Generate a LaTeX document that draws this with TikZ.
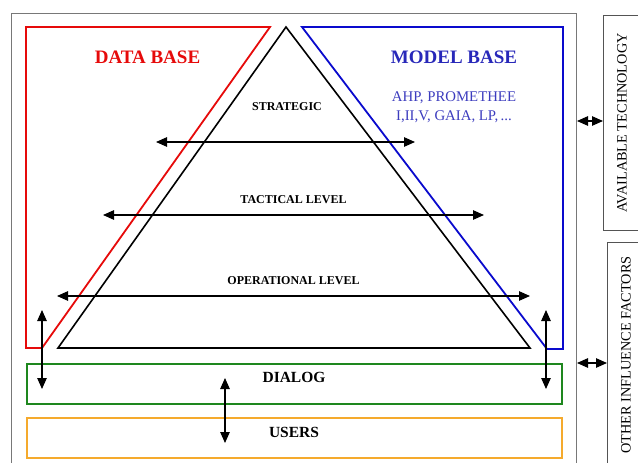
\documentclass[tikz,border=0pt]{standalone}
\usepackage{fontspec}
\setmainfont{Liberation Serif}
\usetikzlibrary{arrows.meta}
\definecolor{dbred}{RGB}{230,10,10}
\definecolor{mbblue}{RGB}{10,10,205}
\definecolor{mbtext}{RGB}{40,40,185}
\definecolor{mbsub}{RGB}{60,60,190}
\definecolor{dlggreen}{RGB}{30,135,30}
\definecolor{usrorange}{RGB}{245,170,45}
\definecolor{framegray}{RGB}{120,120,120}
\tikzset{
  dbl/.style={line width=1.2pt,{Triangle[length=11pt,width=9.5pt]}-{Triangle[length=11pt,width=9.5pt]}},
  lvl/.style={font=\bfseries\fontsize{12}{13}\selectfont,inner sep=0pt},
  side/.style={font=\fontsize{14.3}{15}\selectfont,rotate=90,inner sep=0pt},
  bar/.style={font=\bfseries\fontsize{15.5}{16}\selectfont,inner sep=0pt}
}
\begin{document}
\begin{tikzpicture}[x=1pt,y=-1pt]
\useasboundingbox (0,0) rectangle (638,463);
% outer frame
\draw[framegray,line width=0.9pt] (11,470) -- (11,13) -- (576,13) -- (576,470);
% side boxes
\draw[framegray!70!black,line width=0.9pt] (645,15) -- (603,15) -- (603,230) -- (645,230);
\draw[framegray!70!black,line width=0.9pt] (645,242) -- (607,242) -- (607,470);
% data base
\draw[dbred,line width=1.8pt] (26,27) -- (270,27) -- (42,348) -- (26,348) -- cycle;
% model base
\draw[mbblue,line width=1.8pt] (302,27) -- (563,27) -- (563,349) -- (547,349) -- cycle;
% pyramid
\draw[black,line width=1.6pt,line join=miter] (286,27) -- (530,348) -- (58,348) -- cycle;
% dialog and users
\node[draw=dlggreen,line width=1.6pt,minimum width=535pt,minimum height=40pt,anchor=north west,inner sep=0pt] (dialogbox) at (26,363) {};
\node[draw=usrorange,line width=1.6pt,minimum width=535pt,minimum height=40pt,anchor=north west,inner sep=0pt] (usersbox) at (26,417) {};
\node[bar] (dialog) at (294,377) {DIALOG};
\node[bar] (users) at (294,432) {USERS};
% titles
\node[dbred,font=\bfseries\fontsize{19}{20}\selectfont,inner sep=0pt] (dbt) at (147.5,57) {DATA BASE};
\node[mbtext,font=\bfseries\fontsize{19}{20}\selectfont,inner sep=0pt] (mbt) at (454,57) {MODEL BASE};
\node[mbsub,font=\fontsize{14.8}{19}\selectfont,align=center,inner sep=0pt] (mbm) at (454,107.5) {AHP, PROMETHEE\\I,II,V, GAIA, LP,\,...};
% levels
\node[lvl] (strat) at (287,107) {STRATEGIC};
\node[lvl] (tact) at (293.5,200) {TACTICAL LEVEL};
\node[lvl] (oper) at (293.5,281) {OPERATIONAL LEVEL};
\coordinate (s1) at (156,142); \coordinate (s2) at (415,142);
\coordinate (t1) at (103,215); \coordinate (t2) at (484,215);
\coordinate (o1) at (57,296);  \coordinate (o2) at (530,296);
\draw[dbl] (s1) -- (s2);
\draw[dbl] (t1) -- (t2);
\draw[dbl] (o1) -- (o2);
% vertical arrows
\coordinate (l1) at (42,310); \coordinate (l2) at (42,389);
\coordinate (r1) at (546,310); \coordinate (r2) at (546,389);
\coordinate (m1) at (225,378); \coordinate (m2) at (225,443);
\draw[dbl] (l1) -- (l2);
\draw[dbl] (r1) -- (r2);
\draw[dbl] (m1) -- (m2);
% side texts
\node[side] (avail) at (622,123) {AVAILABLE TECHNOLOGY};
\node[side] (other) at (626,355) {OTHER INFLUENCE FACTORS};
\coordinate (a1) at (577,121); \coordinate (a2) at (603,121);
\coordinate (b1) at (577,363); \coordinate (b2) at (607,363);
\draw[dbl] (a1) -- (a2);
\draw[dbl] (b1) -- (b2);
\end{tikzpicture}
\end{document}
